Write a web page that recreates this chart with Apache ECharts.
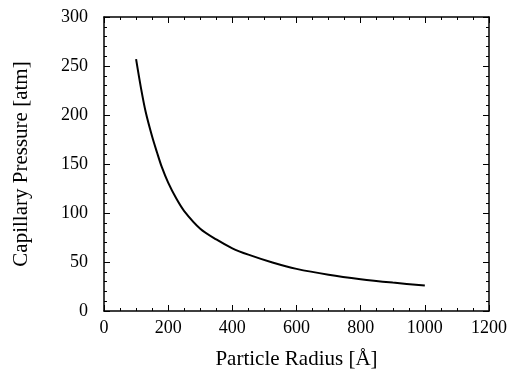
<!DOCTYPE html>
<html>
<head>
<meta charset="utf-8">
<script src="https://cdn.jsdelivr.net/npm/echarts@6/dist/echarts.min.js"></script>
<style>
html,body{margin:0;padding:0;background:#fff;}
#chart{width:510px;height:375px;}
</style>
</head>
<body>
<div id="chart"></div>
<script>
// Particle radius (Å)
const radius = [100, 115, 130, 150, 165, 180, 200, 225, 250, 300, 350, 400, 450, 525, 600, 700, 800, 900, 1000];
// Capillary pressure (atm)
const pressure = [257, 228, 203, 178, 162, 147, 131, 115, 102, 84, 73, 64, 57.5, 49.5, 43, 37, 32.5, 29, 26];
const xTicks = [0, 200, 400, 600, 800, 1000, 1200];
const yTicks = [0, 50, 100, 150, 200, 250, 300];

const FONT = '"Liberation Serif", "DejaVu Serif", serif';
const chart = echarts.init(document.getElementById('chart'));
const data = radius.map((r, i) => [r, pressure[i]]);

function mkAxis(extra) {
  return Object.assign({
    type: 'value',
    axisLine: { show: true, onZero: false, lineStyle: { color: '#000', width: 1.5 } },
    axisTick: { show: true, inside: true, length: 6, lineStyle: { color: '#000', width: 1 } },
    splitLine: { show: false }
  }, extra);
}
const minorX = { show: true, splitNumber: 4, length: 3, lineStyle: { color: '#000', width: 1 } };
const minorY = { show: true, splitNumber: 5, length: 3, lineStyle: { color: '#000', width: 1 } };
const plain = v => String(v);

chart.setOption({
  animation: false,
  backgroundColor: '#fff',
  grid: { left: 104, top: 17, right: 19, bottom: 63, containLabel: false },
  xAxis: [
    mkAxis({
      min: xTicks[0], max: xTicks[xTicks.length - 1], interval: 200, position: 'bottom',
      minorTick: minorX,
      axisLabel: { color: '#000', fontFamily: FONT, fontSize: 18, margin: 8, formatter: plain },
      name: 'Particle Radius [Å]', nameLocation: 'middle', nameGap: 38,
      nameTextStyle: { color: '#000', fontFamily: FONT, fontSize: 21 }
    }),
    mkAxis({
      min: xTicks[0], max: xTicks[xTicks.length - 1], interval: 200, position: 'top',
      minorTick: minorX, axisLabel: { show: false }
    })
  ],
  yAxis: [
    mkAxis({
      min: yTicks[0], max: yTicks[yTicks.length - 1], interval: 50, position: 'left',
      minorTick: minorY,
      axisLabel: { color: '#000', fontFamily: FONT, fontSize: 18, margin: 16, formatter: plain },
      name: 'Capillary Pressure [atm]', nameLocation: 'middle', nameGap: 72,
      nameTextStyle: { color: '#000', fontFamily: FONT, fontSize: 21 }
    }),
    mkAxis({
      min: yTicks[0], max: yTicks[yTicks.length - 1], interval: 50, position: 'right',
      minorTick: minorY, axisLabel: { show: false }
    })
  ],
  series: [{
    type: 'line',
    data: data,
    xAxisIndex: 0, yAxisIndex: 0,
    smooth: 0.3,
    showSymbol: false,
    lineStyle: { color: '#000', width: 2 }
  }]
});
</script>
</body>
</html>
